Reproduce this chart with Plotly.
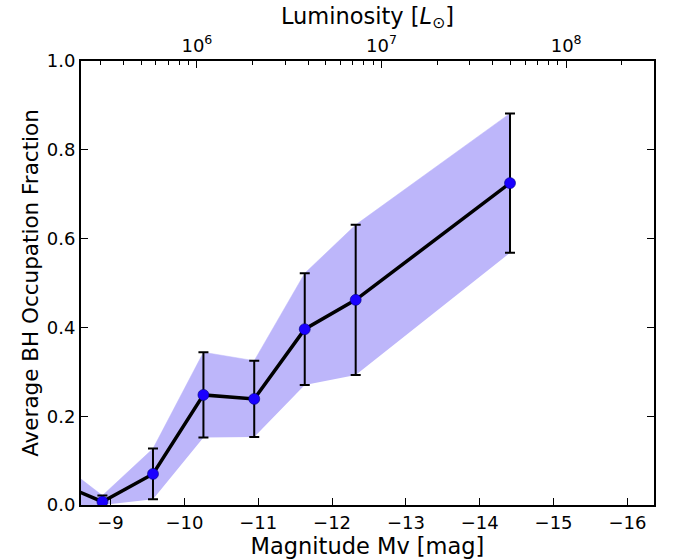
import plotly.graph_objects as go

# Data
mag = [-8.5, -8.89, -9.575, -10.258, -10.946, -11.63, -12.32, -14.41]
frac = [0.035, 0.0074, 0.070, 0.248, 0.239, 0.396, 0.462, 0.725]
err = [0.036, 0.014, 0.057, 0.096, 0.086, 0.126, 0.169, 0.157]

y_ticks = [0.0, 0.2, 0.4, 0.6, 0.8, 1.0]
x_ticks = [-9, -10, -11, -12, -13, -14, -15, -16]
mag_range = [-8.6, -16.36]
M_SUN_V = 4.83
lum_major = [1e6, 1e7, 1e8]
lum_major_text = ["10<sup>6</sup>", "10<sup>7</sup>", "10<sup>8</sup>"]
lum_minor = [m * 10 ** e for e in range(5, 10) for m in range(2, 10)]

# top axis: log10(L/Lsun) = 0.4 * (Msun - M)
lum_range = [0.4 * (M_SUN_V - m) for m in mag_range]

upper = [v + e for v, e in zip(frac, err)]
lower = [max(v - e, 0) for v, e in zip(frac, err)]

FONT = "DejaVu Sans"
band_color = "#bdb6fa"

fig = go.Figure()
fig.add_trace(go.Scatter(x=mag, y=lower, mode="lines", line=dict(width=0, color=band_color),
                         showlegend=False, hoverinfo="skip"))
fig.add_trace(go.Scatter(x=mag, y=upper, mode="lines", line=dict(width=0.5, color=band_color),
                         fill="tonexty", fillcolor=band_color, showlegend=False, hoverinfo="skip"))
fig.add_trace(go.Scatter(
    x=mag, y=frac, mode="lines+markers",
    line=dict(color="black", width=3.5),
    marker=dict(color="#1a00ff", size=11, line=dict(color="#000080", width=0.6)),
    error_y=dict(type="data", array=err, color="black", thickness=2, width=5),
    showlegend=False,
))

# invisible trace to anchor the top luminosity axis
fig.add_trace(go.Scatter(x=[lum_major[0]], y=[None], xaxis="x2", mode="markers",
                         showlegend=False, hoverinfo="skip", marker=dict(opacity=0)))

axis_common = dict(showgrid=False, zeroline=False, showline=True, linecolor="black",
                   linewidth=2, ticks="inside", tickcolor="black", tickwidth=1,
                   tickfont=dict(family=FONT, size=18, color="black"))

fig.update_layout(
    width=673, height=560,
    margin=dict(l=81, r=19, t=61, b=55),
    paper_bgcolor="white", plot_bgcolor="white",
    font=dict(family=FONT, color="black"),
    xaxis=dict(range=mag_range, tickvals=x_ticks, ticklen=7, mirror=False,
               title=dict(text="Magnitude Mv [mag]", font=dict(family=FONT, size=22.5), standoff=0),
               **axis_common),
    yaxis=dict(range=[0, 1.0], tickvals=y_ticks, tickformat=".1f", ticklen=7, mirror="ticks",
               title=dict(text="Average BH Occupation Fraction", font=dict(family=FONT, size=21.5), standoff=2),
               **axis_common),
    xaxis2=dict(type="log", overlaying="x", side="top", range=lum_range,
                tickvals=lum_major, ticktext=lum_major_text, ticklen=7,
                minor=dict(tickvals=lum_minor, ticks="inside", ticklen=3.5, tickcolor="black", tickwidth=1),
                title=dict(text="Luminosity [<i>L</i><sub>⊙</sub>]", font=dict(family=FONT, size=22.5), standoff=0),
                **axis_common),
)

fig.write_html("out.html")
